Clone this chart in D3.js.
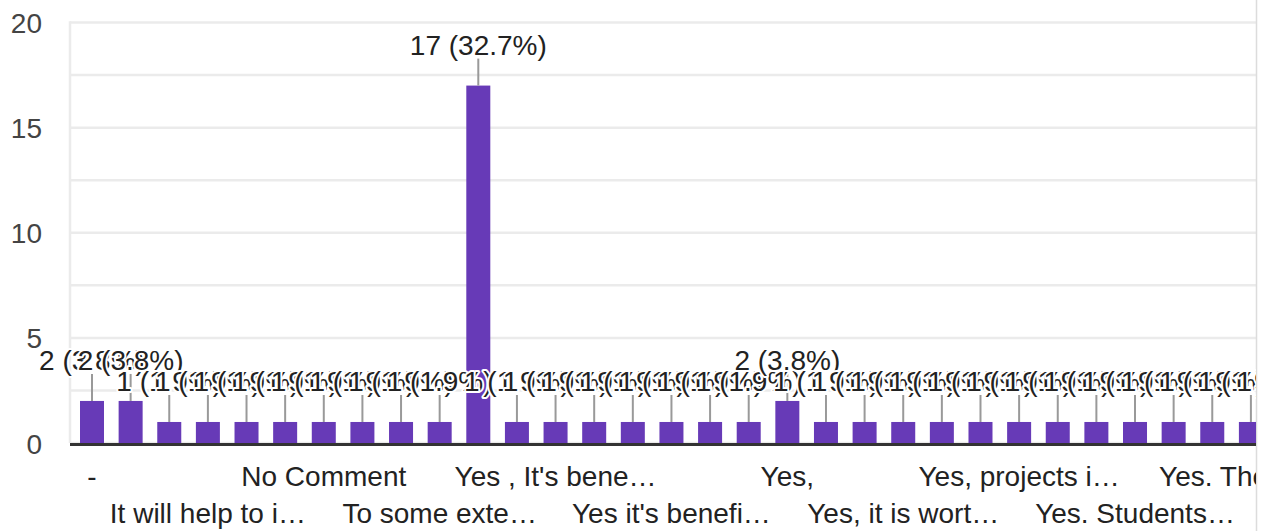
<!DOCTYPE html>
<html><head><meta charset="utf-8">
<script src="https://cdn.jsdelivr.net/npm/d3@7"></script>
<style>
body{margin:0;background:#fff}
svg{display:block;font-family:"Liberation Sans",Arial,sans-serif}
</style>
</head><body>
<svg id="chart" width="1267" height="531"></svg>
<script>
// ---- data ----
const categories = [
  "-", "Absolutely", "Definitely", "It will help to i…", "It's useful", "Maybe",
  "No Comment", "Not sure", "Partially", "To some exte…", "Yes", "Yes , It helps",
  "Yes , It's bene…", "Yes definitely", "Yes it helps", "Yes it's benefi…", "Yes of course",
  "Yes very much", "Yes,", "Yes, definitely", "Yes, it helps", "Yes, it is wort…",
  "Yes, it will help", "Yes, of course", "Yes, projects i…", "Yes, surely", "Yes. It helps",
  "Yes. Students…", "Yes. That is good", "Yes. The ideas", "Yes. They ar…", "Yes. Useful",
  "Yes. Very useful"
];
const counts = [
  2, 2, 1, 1, 1, 1,
  1, 1, 1, 1, 17, 1,
  1, 1, 1, 1, 1,
  1, 2, 1, 1, 1,
  1, 1, 1, 1, 1,
  1, 1, 1, 1, 1,
  1
];
const yTickValues = [0, 5, 10, 15, 20];
const gridValues = [0, 2.5, 5, 7.5, 10, 12.5, 15, 17.5, 20];
const shownLabelIndexes = [0, 3, 6, 9, 12, 15, 18, 21, 24, 27, 30];

// ---- layout ----
const W = 1267, H = 531;
const plotLeft = 70, plotRight = 1256;
const step = 38.63;
const fontSize = 28;
const total = d3.sum(counts);
const svg = d3.select("#chart");

const x = d3.scaleBand()
  .domain(categories)
  .range([92 - step / 2, 92 - step / 2 + step * categories.length])
  .paddingInner(0.3787)
  .paddingOuter(0.3787 / 2);
const y = d3.scaleLinear().domain([0, 20]).range([443, 22.5]);

svg.append("defs").append("clipPath").attr("id", "clip")
  .append("rect").attr("x", 0).attr("y", 0).attr("width", plotRight).attr("height", H);

// gridlines
svg.append("g").selectAll("line").data(gridValues).join("line")
  .attr("x1", plotLeft).attr("x2", plotRight)
  .attr("y1", d => y(d)).attr("y2", d => y(d))
  .attr("stroke", "#ebebeb").attr("stroke-width", 2.5);
// left border
svg.append("line")
  .attr("x1", plotLeft).attr("x2", plotLeft)
  .attr("y1", y(20) - 1.25).attr("y2", y(0))
  .attr("stroke", "#ebebeb").attr("stroke-width", 2.5);
// right container border
svg.append("line")
  .attr("x1", plotRight + 0.5).attr("x2", plotRight + 0.5)
  .attr("y1", 0).attr("y2", H)
  .attr("stroke", "#dcdcdc").attr("stroke-width", 1.5);

// y axis labels
const yAxis = d3.axisLeft(y).tickValues(yTickValues).tickSize(0).tickPadding(0);
const ya = svg.append("g").attr("transform", "translate(42,0)").call(yAxis);
ya.select(".domain").remove();
ya.selectAll("text")
  .attr("font-size", fontSize)
  .attr("font-family", '"Liberation Sans",Arial,sans-serif')
  .attr("fill", "#444")
  .attr("dy", "0.36em");

const g = svg.append("g").attr("clip-path", "url(#clip)");

// bars
g.append("g").selectAll("rect").data(categories).join("rect")
  .attr("x", d => x(d))
  .attr("y", (d, i) => y(counts[i]))
  .attr("width", x.bandwidth())
  .attr("height", (d, i) => y(0) - y(counts[i]))
  .attr("fill", "#673ab7");

// baseline
g.append("line")
  .attr("x1", plotLeft).attr("x2", plotRight)
  .attr("y1", y(0) + 1.5).attr("y2", y(0) + 1.5)
  .attr("stroke", "#333").attr("stroke-width", 3);

// stems
const stemLen = 27;
g.append("g").selectAll("line").data(categories).join("line")
  .attr("x1", d => x(d) + x.bandwidth() / 2)
  .attr("x2", d => x(d) + x.bandwidth() / 2)
  .attr("y1", (d, i) => y(counts[i]))
  .attr("y2", (d, i) => y(counts[i]) - stemLen)
  .attr("stroke", "#999").attr("stroke-width", 2);

// annotations
g.append("g").selectAll("text").data(categories).join("text")
  .attr("x", d => x(d) + x.bandwidth() / 2)
  .attr("y", (d, i) => y(counts[i]) - stemLen - 4)
  .attr("text-anchor", "middle")
  .attr("font-size", fontSize)
  .attr("fill", "#222")
  .attr("stroke", "#fff").attr("stroke-width", 4)
  .attr("paint-order", "stroke")
  .attr("stroke-linejoin", "round")
  .text((d, i) => `${counts[i]} (${(counts[i] / total * 100).toFixed(1)}%)`);

// x labels (every third, alternating rows)
g.append("g").selectAll("text").data(shownLabelIndexes).join("text")
  .attr("x", i => x(categories[i]) + x.bandwidth() / 2)
  .attr("y", (i, k) => k % 2 === 0 ? 486 : 523)
  .attr("text-anchor", "middle")
  .attr("font-size", fontSize)
  .attr("fill", "#222")
  .text(i => categories[i]);
</script>
</body></html>
